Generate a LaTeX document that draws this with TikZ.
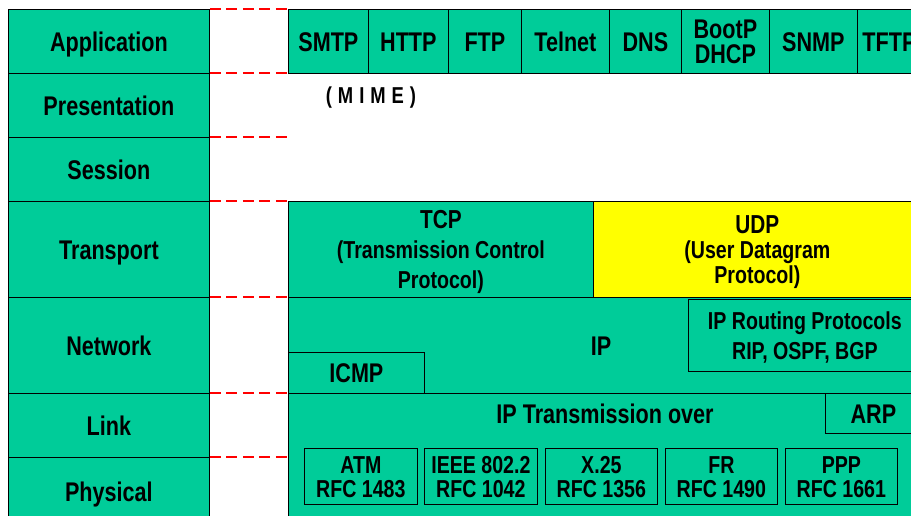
\documentclass[tikz,border=0pt]{standalone}
\usepackage{fontspec}
\setmainfont{Liberation Sans}[FakeStretch=0.8]
\newfontfamily\mimefont{Liberation Sans}[FakeStretch=0.8, LetterSpace=26]
\definecolor{osigreen}{RGB}{0,204,153}
\definecolor{udpyellow}{RGB}{255,255,0}
\tikzset{
  layer/.style={draw=black, line width=0.8pt, fill=osigreen, inner sep=0pt, minimum width=201pt,
    text height=19.4pt, text depth=0pt, font=\bfseries\fontsize{27}{30}\selectfont},
  proto/.style={draw=black, line width=0.8pt, fill=osigreen, inner sep=0pt, align=center,
    anchor=north west, text height=19.4pt, text depth=0pt, font=\bfseries\fontsize{27}{25}\selectfont},
  rfcbox/.style={proto, minimum height=56pt, yshift=2pt, text height=41.6pt,
    font=\bfseries\fontsize{24.5}{24}\selectfont},
  caption/.style={inner sep=0pt, text height=19.4pt, text depth=0pt, font=\bfseries\fontsize{27}{27}\selectfont},
  divider/.style={red, line width=1.1pt, dash pattern=on 11pt off 5.5pt}
}
\begin{document}
\begin{tikzpicture}[x=1pt,y=-1pt]
\useasboundingbox (0,0) rectangle (911,515);
\clip (0,0) rectangle (911,515);
% layer names
\node[layer, minimum height=64pt, anchor=north west] (app) at (8,9) {Application};
\node[layer, minimum height=64pt, anchor=north west] (pres) at (8,73) {Presentation};
\node[layer, minimum height=64pt, anchor=north west] (sess) at (8,137) {Session};
\node[layer, minimum height=96pt, anchor=north west] (trans) at (8,201) {Transport};
\node[layer, minimum height=96pt, anchor=north west] (net) at (8,297) {Network};
\node[layer, minimum height=64pt, anchor=north west] (link) at (8,393) {Link};
\node[layer, minimum height=68pt, anchor=north west] (phys) at (8,457) {Physical};
\foreach \l in {app,pres,sess,trans,net,link,phys}
  \draw[divider] (\l.north east) -- ++(79,0);
% application
\node[proto, minimum width=80pt, minimum height=64pt] (smtp) at (288,9) {SMTP};
\node[proto, minimum width=80pt, minimum height=64pt] (http) at (368,9) {HTTP};
\node[proto, minimum width=73pt, minimum height=64pt] (ftp) at (448,9) {FTP};
\node[proto, minimum width=88pt, minimum height=64pt] (telnet) at (521,9) {Telnet};
\node[proto, minimum width=72pt, minimum height=64pt] (dns) at (609,9) {DNS};
\node[proto, minimum width=88pt, minimum height=64pt, text height=44.4pt] (bootp) at (681,9) {BootP\\DHCP};
\node[proto, minimum width=88pt, minimum height=64pt] (snmp) at (769,9) {SNMP};
\node[proto, minimum width=64pt, minimum height=64pt] (tftp) at (857,9) {TFTP};
\node[inner sep=0pt, text height=16.5pt, text depth=0pt,
  font=\mimefont\bfseries\fontsize{23}{24}\selectfont] (mime) at (371,95) {(MIME)};
% transport
\node[proto, minimum width=305pt, minimum height=96pt, text height=78.7pt,
  font=\bfseries\fontsize{24.5}{30}\selectfont] (tcp) at (288,201)
  {{\fontsize{26}{30}\selectfont TCP}\\(Transmission Control\\Protocol)};
\node[proto, fill=udpyellow, minimum width=328pt, minimum height=96pt, text height=68.7pt,
  font=\bfseries\fontsize{24.5}{25}\selectfont] (udp) at (593,201)
  {{\fontsize{26}{25}\selectfont UDP}\\(User Datagram\\Protocol)};
% network
\node[proto, minimum width=633pt, minimum height=96pt] (ipbox) at (288,297) {};
\node[caption] (ip) at (601,346) {IP};
\node[proto, minimum width=136pt, minimum height=41pt] (icmp) at (288,352) {ICMP};
\node[proto, minimum width=233pt, minimum height=72pt, yshift=-2pt, text height=47.6pt,
  font=\bfseries\fontsize{24.5}{30}\selectfont] (routing) at (688,297) {IP Routing Protocols\\RIP, OSPF, BGP};
% link and physical
\node[proto, minimum width=633pt, minimum height=132pt] (linkbox) at (288,393) {};
\node[caption] (ipover) at (605,414) {IP Transmission over};
\node[proto, minimum width=96pt, minimum height=40pt] (arp) at (825,393) {ARP};
\node[rfcbox, minimum width=113pt] (atm) at (304,450) {ATM\\RFC 1483};
\node[rfcbox, minimum width=113pt] (ieee) at (424,450) {IEEE 802.2\\RFC 1042};
\node[rfcbox, minimum width=112pt] (xtf) at (545,450) {X.25\\RFC 1356};
\node[rfcbox, minimum width=112pt] (fr) at (665,450) {FR\\RFC 1490};
\node[rfcbox, minimum width=112pt] (ppp) at (785,450) {PPP\\RFC 1661};
\end{tikzpicture}
\end{document}
